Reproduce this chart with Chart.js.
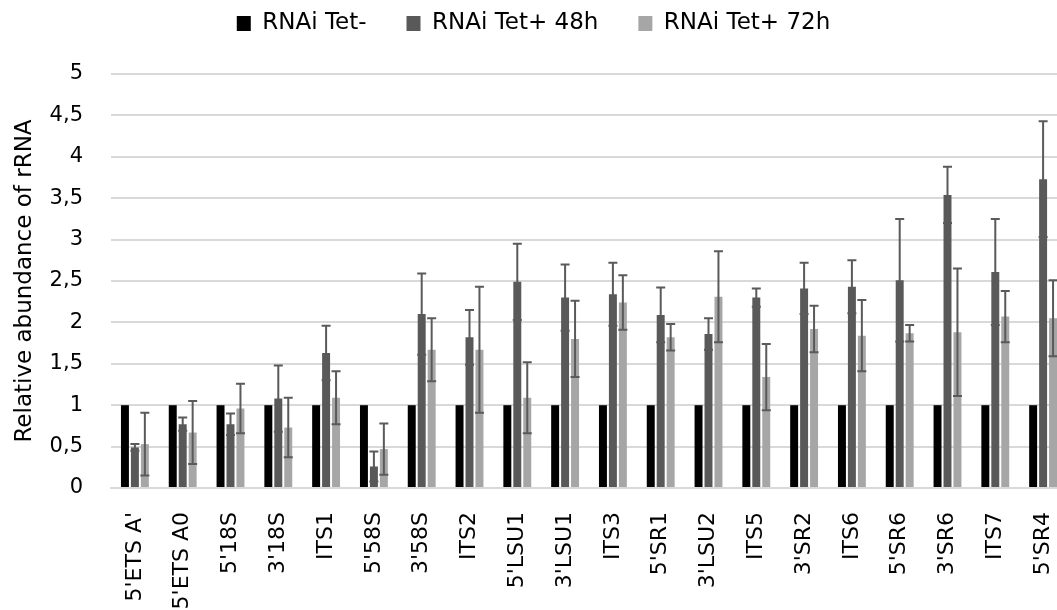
<!DOCTYPE html>
<html>
<head>
<meta charset="utf-8">
<script src="https://cdn.jsdelivr.net/npm/chart.js@4.4.1/dist/chart.umd.min.js"></script>
<style>
  html, body { margin: 0; padding: 0; background: #fff; overflow: hidden; }
  canvas { display: block; }
</style>
</head>
<body>
<canvas id="rrna" width="1077" height="610"></canvas>
<script>
// ---------- data ----------
const categories = ["5'ETS A'", "5'ETS A0", "5'18S", "3'18S", "ITS1", "5'58S", "3'58S", "ITS2",
  "5'LSU1", "3'LSU1", "ITS3", "5'SR1", "3'LSU2", "ITS5", "3'SR2", "ITS6", "5'SR6", "3'SR6", "ITS7", "5'SR4"];

const tetMinus = [1, 1, 1, 1, 1, 1, 1, 1, 1, 1, 1, 1, 1, 1, 1, 1, 1, 1, 1, 1];

const tet48 = [0.49, 0.77, 0.77, 1.08, 1.63, 0.26, 2.10, 1.82, 2.49, 2.30,
  2.34, 2.09, 1.86, 2.30, 2.41, 2.43, 2.51, 3.54, 2.61, 3.73];
const err48 = [0.04, 0.08, 0.13, 0.40, 0.33, 0.18, 0.49, 0.33, 0.46, 0.40,
  0.38, 0.33, 0.19, 0.11, 0.31, 0.32, 0.74, 0.34, 0.64, 0.70];

const tet72 = [0.53, 0.67, 0.96, 0.73, 1.09, 0.47, 1.67, 1.67, 1.09, 1.80,
  2.24, 1.82, 2.31, 1.34, 1.92, 1.84, 1.87, 1.88, 2.07, 2.05];
const err72 = [0.38, 0.38, 0.30, 0.36, 0.32, 0.31, 0.38, 0.76, 0.43, 0.46,
  0.33, 0.16, 0.55, 0.40, 0.28, 0.43, 0.10, 0.77, 0.31, 0.46];

const yTickLabels = ['0', '0,5', '1', '1,5', '2', '2,5', '3', '3,5', '4', '4,5', '5'];

const FONT = 'DejaVu Sans';

// ---------- error bars (drawn through the y scale) ----------
const errorBars = {
  id: 'errorBars',
  afterDatasetsDraw(chart) {
    const ctx = chart.ctx;
    const y = chart.scales.y;
    chart.data.datasets.forEach((ds, di) => {
      if (!ds.errors) return;
      const meta = chart.getDatasetMeta(di);
      ctx.save();
      ctx.strokeStyle = '#5a5a5a';
      ctx.lineWidth = 2;
      meta.data.forEach((bar, i) => {
        const e = ds.errors[i];
        if (!e) return;
        const v = ds.data[i];
        const x = bar.x;
        const yt = y.getPixelForValue(v + e);
        const yb = y.getPixelForValue(v - e);
        ctx.beginPath();
        ctx.moveTo(x, yt); ctx.lineTo(x, yb);
        ctx.moveTo(x - 4.5, yt); ctx.lineTo(x + 4.5, yt);
        ctx.moveTo(x - 4.5, yb); ctx.lineTo(x + 4.5, yb);
        ctx.stroke();
      });
      ctx.restore();
    });
  }
};

// legend keeps its wide horizontal gap, but sits near the top edge
const legendLift = {
  id: 'legendLift',
  afterLayout(chart) {
    if (chart.legend) { chart.legend.top -= 29; chart.legend.bottom -= 29; }
  }
};

new Chart(document.getElementById('rrna'), {
  type: 'bar',
  data: {
    labels: categories,
    datasets: [
      { label: 'RNAi Tet-', data: tetMinus, backgroundColor: '#000000' },
      { label: 'RNAi Tet+ 48h', data: tet48, errors: err48, backgroundColor: '#595959' },
      { label: 'RNAi Tet+ 72h', data: tet72, errors: err72, backgroundColor: '#a6a6a6' }
    ]
  },
  plugins: [errorBars, legendLift],
  options: {
    responsive: false,
    animation: false,
    layout: { padding: { top: 1, right: 10 } },
    datasets: { bar: { categoryPercentage: 0.625, barPercentage: 0.8 } },
    plugins: {
      legend: {
        position: 'top',
        labels: {
          color: '#000', boxWidth: 14, boxHeight: 15, padding: 40,
          font: { family: FONT, size: 23 }
        }
      },
      tooltip: { enabled: false }
    },
    scales: {
      x: {
        grid: { display: false },
        border: { color: '#d9d9d9', width: 2 },
        ticks: {
          color: '#000', minRotation: 90, maxRotation: 90, autoSkip: false, padding: 16,
          font: { family: FONT, size: 22 }
        },
        afterFit(scale) { scale.height = 122; scale.paddingLeft = 0; scale.paddingRight = 0; }
      },
      y: {
        min: 0, max: 5,
        grid: { color: '#d9d9d9', lineWidth: 2, drawTicks: false },
        border: { display: false },
        ticks: {
          stepSize: 0.5, color: '#000', padding: 28,
          font: { family: FONT, size: 21 },
          callback: (v, i) => yTickLabels[i]
        },
        title: {
          display: true, text: 'Relative abundance of rRNA', color: '#000',
          font: { family: FONT, size: 23 }, padding: { top: 11, bottom: 0 }
        },
        afterFit(scale) { scale.width = 111; }
      }
    }
  }
});
</script>
</body>
</html>
